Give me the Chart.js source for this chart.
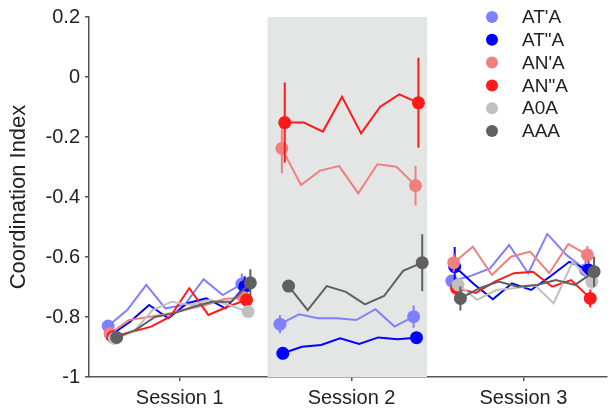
<!DOCTYPE html>
<html>
<head>
<meta charset="utf-8">
<script src="https://cdn.jsdelivr.net/npm/chart.js@4/dist/chart.umd.min.js"></script>
<style>
  html, body { margin: 0; padding: 0; background: #fff; }
  #wrap { width: 613px; height: 409px; }
</style>
</head>
<body>
<div id="wrap"><canvas id="ci-chart"></canvas></div>
<script>
// categories
const sessions = ['Session 1', 'Session 2', 'Session 3'];
const seriesNames = ["AT'A", 'AT"A', "AN'A", 'AN"A', 'A0A', 'AAA'];

// coordination index, 8 points per session (null = not recorded)
const atpA = [
    -0.830, -0.777, -0.693, -0.771, -0.760, -0.674, -0.727, -0.690,
    -0.824, -0.791, -0.804, -0.804, -0.810, -0.774, -0.832, -0.799,
    -0.680, -0.663, -0.638, -0.560, -0.654, -0.523, -0.593, -0.643
];
const atppA = [
    -0.860, -0.816, -0.760, -0.804, -0.754, -0.738, -0.771, -0.699,
    -0.921, -0.899, -0.893, -0.871, -0.890, -0.868, -0.874, -0.869,
    -0.632, -0.690, -0.741, -0.688, -0.710, -0.665, -0.616, -0.643
];
const anpA = [
    -0.855, -0.810, -0.800, -0.790, -0.775, -0.760, -0.740, -0.735,
    -0.238, -0.360, -0.312, -0.297, -0.388, -0.291, -0.299, -0.362,
    -0.619, -0.566, -0.660, -0.599, -0.582, -0.654, -0.557, -0.593
];
const anppA = [
    -0.866, -0.849, -0.832, -0.799, -0.704, -0.793, -0.766, -0.743,
    -0.152, -0.152, -0.182, -0.066, -0.188, -0.099, -0.058, -0.086,
    -0.704, -0.720, -0.682, -0.654, -0.649, -0.699, -0.677, -0.738
];
const a0a = [
    -0.871, -0.850, -0.777, -0.749, -0.760, -0.743, -0.760, -0.782,
    null, null, null, null, null, null, null, null,
    -0.693, -0.743, -0.710, -0.703, -0.693, -0.754, -0.616, -0.682
];
const aaa = [
    -0.868, -0.843, -0.800, -0.788, -0.766, -0.749, -0.749, -0.686,
    -0.697, -0.777, -0.697, -0.716, -0.758, -0.730, -0.646, -0.619,
    -0.738, -0.704, -0.682, -0.699, -0.693, -0.677, -0.693, -0.649
];

// error bar half-lengths: [s1 first, s1 last, s2 first, s2 last, s3 first, s3 last]
const atpErr  = [0.015, 0.035, 0.030, 0.037, 0.020, 0.030];
const atppErr = [0.010, 0.035, 0.005, 0.005, 0.065, 0.055];
const anpErr  = [0.010, 0.020, 0.083, 0.066, 0.030, 0.030];
const anppErr = [0.010, 0.020, 0.134, 0.150, 0.020, 0.030];
const a0aErr  = [0.010, 0.010, null, null, 0.020, 0.025];
const aaaErr  = [0.010, 0.045, 0.020, 0.095, 0.040, 0.050];

const yTicks = [0.2, 0, -0.2, -0.4, -0.6, -0.8, -1];

const allValues = [atpA, atppA, anpA, anppA, a0a, aaa];
const allErrors = [atpErr, atppErr, anpErr, anppErr, a0aErr, aaaErr];
const colors = ['#8080ff', '#0000ff', '#f08080', '#ff1a1a', '#c0c0c0', '#606060'];
const jitter = [-0.25, -0.1, -0.15, 0, 0.08, 0.2]; // small horizontal offsets per series
const perSession = 8;
const sessionGap = 9;
const FONT = '"Liberation Sans", Arial, Helvetica, sans-serif';

function xFor(s, i, j) {
    return s * sessionGap + i + jitter[j];
}

function buildLine(values, j) {
    const pts = [];
    sessions.forEach((_, s) => {
        for (let i = 0; i < perSession; i++) {
            const v = values[s * perSession + i];
            pts.push({ x: xFor(s, i, j), y: v, end: i === 0 || i === perSession - 1 });
        }
        pts.push({ x: xFor(s, perSession - 0.5, j), y: null });
    });
    return pts;
}

function buildErrors(values, errs, j) {
    const pts = [];
    sessions.forEach((_, s) => {
        [0, perSession - 1].forEach((i, k) => {
            const v = values[s * perSession + i];
            const e = errs[s * 2 + k];
            if (v === null || e === null) return;
            const x = xFor(s, i, j);
            pts.push({ x: x, y: v - e }, { x: x, y: v + e }, { x: x, y: null });
        });
    });
    return pts;
}

const datasets = [];
seriesNames.forEach((name, j) => {
    datasets.push({
        label: name,
        data: buildLine(allValues[j], j),
        borderColor: colors[j],
        backgroundColor: colors[j],
        borderWidth: 2,
        pointRadius: ctx => (ctx.raw && ctx.raw.end && ctx.raw.y !== null) ? 6.5 : 0,
        pointBorderWidth: 0,
        pointBackgroundColor: colors[j],
        spanGaps: false,
        tension: 0,
        order: 6 - j
    });
    datasets.push({
        label: name + ' error',
        data: buildErrors(allValues[j], allErrors[j], j),
        borderColor: colors[j],
        borderWidth: 2,
        pointRadius: 0,
        spanGaps: false,
        order: 6 - j
    });
});

// grey band behind session 2
const bandPlugin = {
    id: 'sessionBand',
    beforeDatasetsDraw(chart) {
        const { ctx, chartArea, scales } = chart;
        const x0 = scales.x.getPixelForValue(sessionGap - 0.9);
        const x1 = scales.x.getPixelForValue(2 * sessionGap - 1.55);
        ctx.save();
        ctx.fillStyle = '#e4e5e5';
        ctx.fillRect(x0, chartArea.top, x1 - x0, chartArea.bottom - chartArea.top);
        ctx.restore();
    }
};

// legend drawn inside the plot, top right
const legendPlugin = {
    id: 'insideLegend',
    afterDraw(chart) {
        const { ctx } = chart;
        ctx.save();
        ctx.font = '19px ' + FONT;
        ctx.textBaseline = 'middle';
        seriesNames.forEach((name, j) => {
            const y = 17 + j * 22.8;
            ctx.fillStyle = colors[j];
            ctx.beginPath();
            ctx.arc(492, y, 6, 0, Math.PI * 2);
            ctx.fill();
            ctx.fillStyle = '#222';
            ctx.fillText(name, 522, y + 1);
        });
        ctx.restore();
    }
};

const ctx = document.getElementById('ci-chart').getContext('2d');
new Chart(ctx, {
    type: 'line',
    data: { datasets: datasets },
    options: {
        responsive: true,
        maintainAspectRatio: false,
        animation: false,
        events: [],
        layout: { padding: { top: 17, right: 5, bottom: 0, left: 0 } },
        plugins: {
            legend: { display: false },
            tooltip: { enabled: false }
        },
        scales: {
            x: {
                type: 'linear',
                min: -1.25,
                max: 25.85,
                afterFit: scale => { scale.height = 32; },
                afterBuildTicks: scale => {
                    scale.ticks = sessions.map((_, s) => ({ value: s * sessionGap + 3.5 }));
                },
                ticks: {
                    autoSkip: false,
                    maxRotation: 0,
                    padding: 5,
                    color: '#222',
                    font: { family: FONT, size: 20 },
                    callback: v => sessions[Math.round((v - 3.5) / sessionGap)]
                },
                grid: { drawOnChartArea: false, drawTicks: true, tickLength: 4, color: '#555', lineWidth: 1.5 },
                border: { display: true, color: '#555', width: 1.5 }
            },
            y: {
                min: -1,
                max: 0.2,
                afterFit: scale => { scale.width = 89; },
                afterBuildTicks: scale => {
                    scale.ticks = yTicks.map(v => ({ value: v }));
                },
                ticks: {
                    padding: 5,
                    color: '#222',
                    font: { family: FONT, size: 20 },
                    callback: v => String(Number(v.toFixed(1)))
                },
                title: {
                    display: true,
                    text: 'Coordination Index',
                    color: '#222',
                    font: { family: FONT, size: 22 },
                    padding: { top: 6, bottom: 0 }
                },
                grid: { drawOnChartArea: false, drawTicks: true, tickLength: 4, color: '#555', lineWidth: 1.5 },
                border: { display: true, color: '#555', width: 1.5 }
            }
        }
    },
    plugins: [bandPlugin, legendPlugin]
});
</script>
</body>
</html>
